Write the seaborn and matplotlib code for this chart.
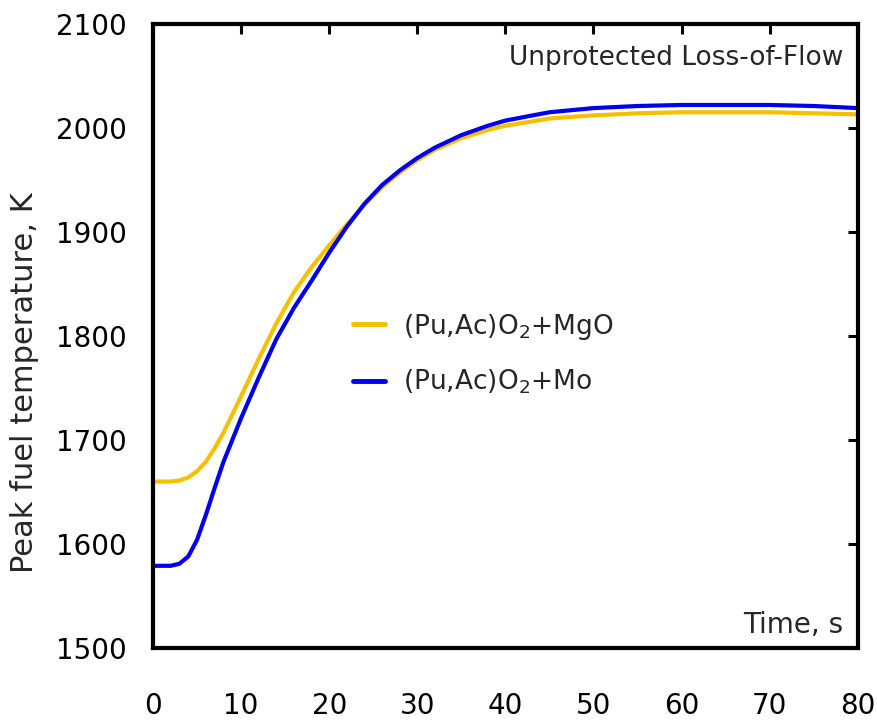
import matplotlib
matplotlib.use("Agg")
import matplotlib.pyplot as plt
import seaborn as sns
import pandas as pd

# Time points, s
time_s = [0, 1, 2, 3, 4, 5, 6, 7, 8, 10, 12, 14, 16, 18, 20, 22, 24, 26, 28,
          30, 32, 35, 38, 40, 45, 50, 55, 60, 65, 70, 75, 80]

# Peak fuel temperature, K
temp_mgo = [1660, 1660, 1660, 1661, 1664, 1670, 1679, 1692, 1707, 1742, 1778, 1812,
            1842, 1866, 1887, 1907, 1926, 1943, 1957, 1969, 1979, 1990, 1998, 2002,
            2009, 2012, 2014, 2015, 2015, 2015, 2014, 2013]
temp_mo = [1579, 1579, 1579, 1581, 1588, 1604, 1628, 1654, 1679, 1721, 1760, 1797,
           1827, 1853, 1880, 1905, 1927, 1945, 1959, 1971, 1981, 1993, 2002, 2007,
           2015, 2019, 2021, 2022, 2022, 2022, 2021, 2019]

labels = [r"(Pu,Ac)O$_2$+MgO", r"(Pu,Ac)O$_2$+Mo"]
colors = ["#F5C000", "#0000EE"]

df = pd.DataFrame({
    "Time": time_s * 2,
    "Temp": temp_mgo + temp_mo,
    "Fuel": [labels[0]] * len(time_s) + [labels[1]] * len(time_s),
})

sns.set_style("white")
plt.rcParams["font.family"] = ["DejaVu Sans"]
plt.rcParams["mathtext.fontset"] = "dejavusans"

fig = plt.figure(figsize=(8.77, 7.22), dpi=100)
ax = fig.add_axes([0.1745, 0.1025, 0.8035, 0.8645])

sns.lineplot(data=df, x="Time", y="Temp", hue="Fuel", palette=colors,
             linewidth=3, ax=ax)

ax.set_xlim(0, 80)
ax.set_ylim(1500, 2100)
ax.set_xticks(range(0, 81, 10))
ax.set_yticks(range(1500, 2101, 100))
ax.set_xlabel("")
ax.set_ylabel("")

for s in ax.spines.values():
    s.set_linewidth(3)
    s.set_color("black")
    s.set_visible(True)

ax.tick_params(axis="both", direction="in", length=7, width=2.2,
               top=True, right=True, labelsize=20, colors="black")
ax.tick_params(axis="x", pad=32)
ax.tick_params(axis="y", pad=19)

leg = ax.legend(loc="center left", bbox_to_anchor=(0.25, 0.471), frameon=False,
                fontsize=19, handlelength=1.2, labelspacing=1.0, handletextpad=0.7)
for line in leg.get_lines():
    line.set_linewidth(3.5)

ax.text(0.979, 0.945, "Unprotected Loss-of-Flow", transform=ax.transAxes,
        ha="right", va="center", fontsize=19)
ax.text(0.979, 0.037, "Time, s", transform=ax.transAxes,
        ha="right", va="center", fontsize=20)

fig.text(25 / 877, 1 - 383 / 722, "Peak fuel temperature, K", rotation=90,
         ha="center", va="center", fontsize=22)

fig.savefig("out.png", dpi=100)
